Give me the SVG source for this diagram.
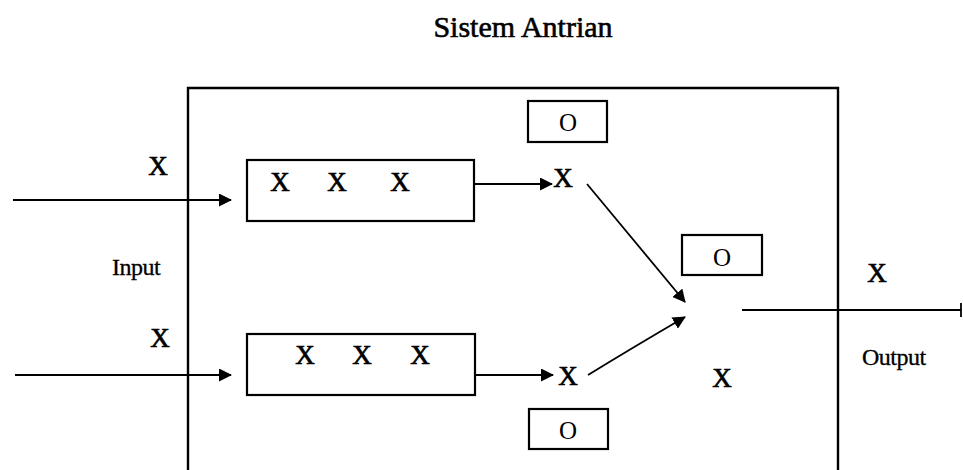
<svg xmlns="http://www.w3.org/2000/svg" width="963" height="470" viewBox="0 0 963 470">
  <style>
    .frame { fill: none; stroke: #000; stroke-width: 2.4; }
    .box { fill: #fff; stroke: #000; stroke-width: 2.2; }
    .line { fill: none; stroke: #000; stroke-width: 1.8; }
    .sym { font-family: "Liberation Serif", "Times New Roman", serif; font-size: 27px; fill: #000; stroke: #000; stroke-width: 0.7; text-anchor: middle; }
    .osym { font-family: "Liberation Serif", "Times New Roman", serif; font-size: 25px; fill: #000; text-anchor: middle; }
    .label { font-family: "Liberation Serif", "Times New Roman", serif; font-size: 24px; fill: #000; stroke: #000; stroke-width: 0.3; letter-spacing: -0.5px; }
    .title { font-family: "Liberation Serif", "Times New Roman", serif; font-size: 30px; fill: #000; stroke: #000; stroke-width: 0.6; text-anchor: middle; }
  </style>
  <defs>
    <marker id="arrow" viewBox="0 0 13 13" refX="12" refY="6.5" markerWidth="13" markerHeight="13" markerUnits="userSpaceOnUse" orient="auto">
      <path d="M0,0 L13,6.5 L0,13 Z" fill="#000"/>
    </marker>
  </defs>

  <rect width="963" height="470" fill="#fff"/>

  <text class="title" x="523" y="37">Sistem Antrian</text>

  <!-- system boundary (open at the bottom edge) -->
  <g id="system">
    <path class="frame" d="M188,472 V88 H838 V472"/>
  </g>

  <g id="queue-top">
    <rect class="box" x="247" y="160" width="227" height="61"/>
    <text class="sym" x="280" y="191">X</text>
    <text class="sym" x="337" y="191">X</text>
    <text class="sym" x="400" y="191">X</text>
  </g>

  <g id="queue-bottom">
    <rect class="box" x="247" y="334" width="228" height="61"/>
    <text class="sym" x="305" y="364">X</text>
    <text class="sym" x="362" y="364">X</text>
    <text class="sym" x="420" y="364">X</text>
  </g>

  <g id="server-top">
    <rect class="box" x="528" y="101" width="79" height="41"/>
    <text class="osym" x="568" y="131">O</text>
  </g>

  <g id="server-middle">
    <rect class="box" x="682" y="235" width="80" height="40"/>
    <text class="osym" x="722" y="266">O</text>
  </g>

  <g id="server-bottom">
    <rect class="box" x="529" y="409" width="79" height="40"/>
    <text class="osym" x="568" y="439">O</text>
  </g>

  <g id="items">
    <text class="sym" x="158" y="175">X</text>
    <text class="sym" x="160" y="347">X</text>
    <text class="sym" x="563" y="187">X</text>
    <text class="sym" x="568" y="385">X</text>
    <text class="sym" x="722" y="387">X</text>
    <text class="sym" x="877" y="282">X</text>
  </g>

  <g id="labels">
    <text class="label" x="112" y="275">Input</text>
    <text class="label" x="862" y="365">Output</text>
  </g>

  <g id="connectors">
    <line class="line" x1="13" y1="200" x2="231" y2="200" marker-end="url(#arrow)"/>
    <line class="line" x1="15" y1="375" x2="231" y2="375" marker-end="url(#arrow)"/>
    <line class="line" x1="474" y1="184" x2="552" y2="184" marker-end="url(#arrow)"/>
    <line class="line" x1="475" y1="375" x2="553" y2="375" marker-end="url(#arrow)"/>
    <line class="line" x1="587" y1="184" x2="685" y2="302" marker-end="url(#arrow)"/>
    <path class="line" d="M588,375 Q632,348 685,317" marker-end="url(#arrow)"/>
    <path class="line" d="M742,310 H961 M961,303 V317"/>
  </g>
</svg>
